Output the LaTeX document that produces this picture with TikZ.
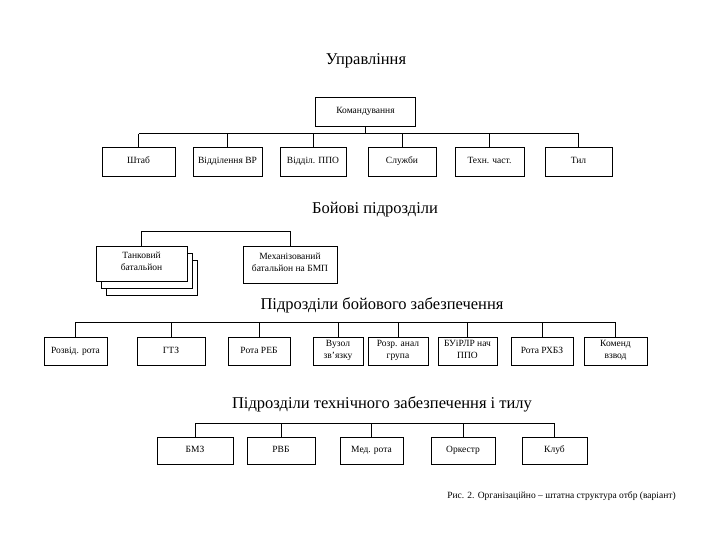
\documentclass[tikz,border=0pt]{standalone}
\usepackage{fontspec}
\setmainfont{Liberation Serif}

\begin{document}
\begin{tikzpicture}[x=1pt,y=-1pt,
  unit/.style={draw, line width=0.9pt, fill=white, minimum height=29pt, inner sep=1pt, align=center, font=\fontsize{9.5}{12}\selectfont, execute at begin node=\strut, execute at end node=\strut},
  head/.style={font=\fontsize{16.5}{18}\selectfont},
  bus/.style={line width=1pt}]
\useasboundingbox (0,0) rectangle (720,540);

\node[head] (t1) at (366,61) {Управління};
\node[unit, minimum width=100pt] (kom) at (365.5,111.5) {Командування};
\coordinate (b1) at (0,134);
\node[unit, minimum width=73pt] (shtab) at (138.5,161.5) {Штаб};
\node[unit, minimum width=69pt] (vidvr) at (227.5,161.5) {Відділення ВР};
\node[unit, minimum width=66pt] (ppo) at (313,161.5) {Відділ. ППО};
\node[unit, minimum width=68pt] (sluzh) at (402,161.5) {Служби};
\node[unit, minimum width=69pt] (tekh) at (489.5,161.5) {Техн. част.};
\node[unit, minimum width=67pt] (tyl) at (578.5,161.5) {Тил};
\draw[bus] (kom.south) -- (kom.south |- b1);
\draw[bus] (shtab.north |- b1) -- (tyl.north |- b1);
\foreach \n in {shtab,vidvr,ppo,sluzh,tekh,tyl}
  \draw[bus] (\n.north) -- (\n.north |- b1);

\node[head] (t2) at (375,210) {Бойові підрозділи};
\node[unit, minimum width=91pt, minimum height=35pt] (tank3) at (151.5,277.5) {};
\node[unit, minimum width=91pt, minimum height=35pt] (tank2) at (146.5,270.5) {};
\node[unit, minimum width=91pt, minimum height=35pt] (tank) at (141.5,263.5) {Танковий\\батальйон};
\node[unit, minimum width=94pt, minimum height=37pt] (mech) at (290,264.5) {Механізований\\батальйон на БМП};
\draw[bus] (tank.north) -- ++(0,-14) -| (mech.north);

\node[head] (t3) at (382,305) {Підрозділи бойового забезпечення};
\coordinate (b3) at (0,322);
\node[unit, minimum width=63pt, minimum height=28pt] (rozv) at (75.5,351) {Розвід. рота};
\node[unit, minimum width=68pt, minimum height=28pt] (gtz) at (171,351) {ГТЗ};
\node[unit, minimum width=62pt, minimum height=28pt] (reb) at (259,351) {Рота РЕБ};
\node[unit, minimum width=50pt, minimum height=28pt] (vuzol) at (338,351) {Вузол\\зв’язку};
\node[unit, minimum width=60pt, minimum height=28pt] (rozr) at (398,351) {Розр. анал\\група};
\node[unit, minimum width=59pt, minimum height=28pt] (buirlr) at (467.5,351) {БУіРЛР нач\\ППО};
\node[unit, minimum width=62pt, minimum height=28pt] (rkhbz) at (542,351) {Рота РХБЗ};
\node[unit, minimum width=63pt, minimum height=28pt] (komend) at (615.5,351) {Коменд\\взвод};
\draw[bus] (rozv.north |- b3) -- (komend.north |- b3);
\foreach \n in {rozv,gtz,reb,vuzol,rozr,buirlr,rkhbz,komend}
  \draw[bus] (\n.north) -- (\n.north |- b3);

\node[head] (t4) at (382,404) {Підрозділи технічного забезпечення і тилу};
\coordinate (b4) at (0,423);
\node[unit, minimum width=76pt, minimum height=27pt] (bmz) at (195,450.5) {БМЗ};
\node[unit, minimum width=68pt, minimum height=27pt] (rvb) at (281,450.5) {РВБ};
\node[unit, minimum width=63pt, minimum height=27pt] (med) at (371.5,450.5) {Мед. рота};
\node[unit, minimum width=64pt, minimum height=27pt] (orkestr) at (463,450.5) {Оркестр};
\node[unit, minimum width=65pt, minimum height=27pt] (klub) at (554.5,450.5) {Клуб};
\draw[bus] (bmz.north |- b4) -- (klub.north |- b4);
\foreach \n in {bmz,rvb,med,orkestr,klub}
  \draw[bus] (\n.north) -- (\n.north |- b4);

\node[font=\fontsize{9.5}{11}\selectfont] (cap) at (561.5,496) {Рис. 2. Організаційно – штатна структура отбр (варіант)};
\end{tikzpicture}
\end{document}
